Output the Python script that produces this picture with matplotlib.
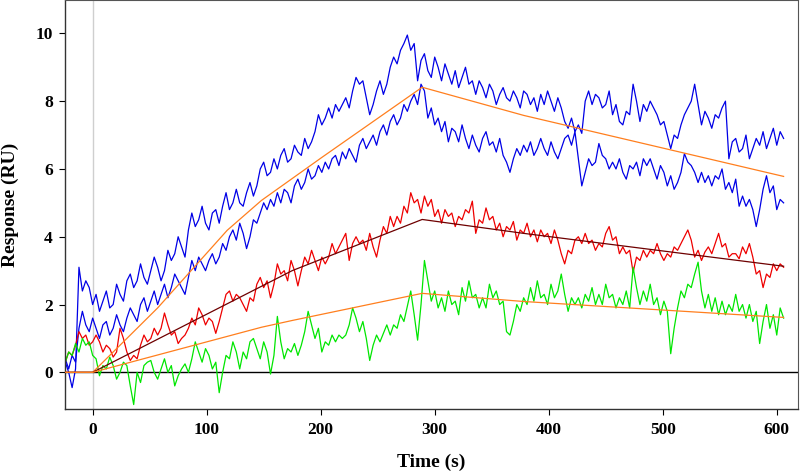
import numpy as np
import matplotlib
matplotlib.use("Agg")
import matplotlib.pyplot as plt

# sensorgram traces, every 3 s from -24 s to 606 s
t = np.arange(-24, 607, 3)

blue_hi = [0.3, 0.0, -0.45, 0.1, 3.1, 2.4, 2.7, 2.5, 2.0, 2.3,
           1.8, 2.1, 2.4, 1.9, 2.0, 2.6, 2.3, 2.1, 2.7, 2.9,
           2.5, 2.7, 3.2, 2.8, 2.6, 3.0, 3.4, 3.1, 2.7, 3.0,
           3.6, 3.3, 3.5, 4.0, 3.7, 3.4, 4.2, 4.7, 4.3, 4.5,
           4.9, 4.4, 4.2, 4.7, 4.8, 4.4, 4.9, 5.3, 4.8, 5.0,
           5.4, 5.0, 4.9, 5.3, 5.6, 5.2, 5.5, 6.0, 6.2, 5.8,
           5.9, 6.3, 6.0, 6.4, 6.6, 6.2, 6.3, 6.7, 6.5, 6.4,
           6.9, 6.6, 6.8, 7.1, 7.6, 7.3, 7.5, 7.8, 7.5, 7.9,
           7.7, 7.9, 8.1, 7.8, 8.3, 8.7, 8.5, 8.6, 8.1, 7.6,
           7.9, 8.3, 8.6, 8.2, 8.5, 9.0, 9.3, 9.1, 9.5, 9.7,
           9.95, 9.5, 9.7, 8.6, 9.2, 9.4, 8.9, 8.7, 9.3, 9.0,
           8.6, 9.1, 8.8, 8.5, 8.9, 8.4, 8.7, 9.0, 8.5, 8.6,
           8.2, 8.6, 8.4, 8.1, 8.5, 8.3, 7.9, 8.2, 8.4, 8.1,
           8.0, 8.3, 8.1, 7.8, 8.3, 8.2, 7.9, 8.1, 7.7, 8.2,
           7.9, 8.3, 8.0, 7.7, 8.1, 7.8, 7.4, 7.2, 7.5, 7.1,
           7.3, 7.05, 8.0, 8.3, 7.9, 8.2, 8.1, 7.8, 7.9, 8.3,
           7.6, 7.9, 7.4, 7.3, 7.7, 7.6, 8.5, 8.0, 7.4, 7.9,
           7.7, 8.0, 7.8, 7.6, 7.3, 7.4, 7.0, 6.6, 7.0, 6.9,
           7.3, 7.6, 7.8, 8.0, 8.5, 7.9, 7.3, 7.7, 7.5, 7.2,
           7.6, 7.5, 7.8, 8.0, 6.3, 6.8, 6.9, 6.5, 6.6, 7.0,
           6.3, 6.6, 6.9, 6.7, 7.1, 6.6, 6.9, 7.2, 6.7, 7.1,
           6.9]

blue_lo = [0.4, 0.1, 0.5, 0.3, 1.3, 1.8, 1.4, 1.2, 1.6, 1.3,
           1.0, 1.4, 1.5, 1.1, 1.3, 1.7, 1.4, 1.2, 1.6, 1.9,
           1.7, 1.5, 2.0, 2.2, 1.8, 2.1, 2.4, 2.0, 2.3, 2.6,
           2.2, 2.5, 2.9, 2.7, 2.5, 2.3, 2.8, 3.3, 3.0, 3.4,
           3.2, 3.0, 3.3, 3.5, 3.2, 3.4, 3.8, 3.6, 4.0, 4.2,
           3.9, 4.4, 4.1, 3.65, 4.0, 4.5, 4.4, 4.7, 5.0, 4.8,
           5.1, 4.9, 5.3, 5.0, 5.4, 5.3, 5.0, 5.5, 5.7, 5.4,
           5.6, 6.0, 5.7, 5.8, 6.1, 5.9, 6.2, 6.0, 6.3, 6.4,
           6.1, 6.5, 6.3, 6.6, 6.4, 6.2, 6.7, 6.9, 6.6, 6.8,
           7.0, 6.7, 7.1, 7.3, 7.0, 7.4, 7.6, 7.3, 7.5, 7.9,
           7.7, 8.0, 8.2, 7.9, 8.5, 8.3, 7.5, 7.8, 7.3, 7.5,
           7.1, 7.4, 6.8, 7.2, 7.1, 6.8, 7.3, 6.9, 6.6, 7.0,
           6.7, 6.5, 6.9, 7.1, 6.7, 6.8, 6.5, 6.9, 6.4, 6.2,
           5.9, 6.3, 6.6, 6.4, 6.7, 6.5, 6.8, 6.4, 6.6, 6.9,
           6.6, 6.4, 6.8, 6.5, 6.3, 6.6, 6.9, 7.0, 6.7, 7.1,
           6.3, 5.5, 5.9, 6.3, 6.1, 6.2, 6.75, 6.4, 6.3, 6.0,
           6.2, 6.0, 6.3, 5.9, 5.7, 6.1, 6.0, 6.2, 5.8, 6.3,
           6.1, 6.3, 6.0, 5.7, 6.1, 5.9, 5.5, 5.8, 5.4, 5.6,
           5.9, 6.45, 6.2, 6.1, 5.9, 5.6, 5.9, 5.6, 5.8, 5.5,
           5.8, 5.7, 6.0, 5.4, 5.6, 5.3, 5.7, 4.9, 5.2, 4.9,
           5.1, 4.8, 4.3, 4.8, 5.4, 5.8, 5.3, 5.5, 4.8, 5.1,
           5.0]

red = [0.3, 0.6, 0.5, 0.8, 1.2, 1.0, 1.1, 0.8, 0.9, 1.1,
       0.9, 0.6, 0.8, 0.7, 0.45, 0.6, 1.3, 1.0, 0.6, 0.35,
       0.5, 0.4, 0.8, 1.1, 0.9, 1.0, 1.3, 1.1, 1.3, 1.75,
       1.4, 1.1, 1.2, 0.85, 1.0, 1.1, 1.3, 1.6, 1.4, 1.9,
       1.7, 1.4, 1.6, 1.5, 1.15, 1.5, 1.9, 2.3, 2.4, 2.1,
       2.3, 2.2, 2.0, 1.8, 2.2, 2.1, 2.6, 2.8, 2.5, 2.7,
       2.2, 2.6, 3.2, 2.9, 3.0, 2.7, 3.3, 3.0, 2.55, 3.0,
       3.4, 3.2, 3.6, 3.3, 3.0, 3.4, 3.2, 3.4, 3.8, 3.5,
       3.7, 3.9, 4.1, 3.3, 3.8, 4.0, 3.8, 3.9, 3.6, 4.1,
       3.7, 3.4, 3.9, 4.3, 4.1, 4.6, 4.3, 4.6, 4.4, 4.9,
       4.7, 5.3, 5.0, 5.1, 4.7, 5.2, 4.9, 5.1, 4.6, 4.8,
       4.4, 4.8, 4.6, 4.7, 4.3, 4.6, 4.5, 4.8, 4.7, 5.05,
       4.1, 4.5, 4.4, 4.85, 4.5, 4.6, 4.2, 4.4, 4.0, 4.3,
       4.2, 4.45, 3.9, 4.2, 4.1, 4.4, 4.0, 4.2, 3.85, 4.2,
       4.0, 4.1, 3.8, 4.2, 3.9, 3.5, 3.2, 3.6, 3.5, 3.9,
       4.0, 3.8, 4.1, 3.8, 3.9, 3.6, 3.8, 3.7, 4.1, 4.3,
       3.9, 4.0, 3.5, 3.7, 3.5, 3.6, 2.95, 3.4, 3.3, 3.6,
       3.4, 3.6, 3.5, 3.8, 3.5, 3.3, 3.5, 3.4, 3.7, 3.6,
       3.8, 4.0, 4.2, 3.9, 3.4, 3.6, 3.3, 3.55, 3.7, 3.5,
       3.8, 4.1, 3.7, 3.8, 3.4, 3.5, 3.5, 3.35, 3.7, 3.5,
       3.8, 3.4, 2.9, 3.0, 2.5, 2.9, 2.8, 3.2, 3.0, 3.2,
       3.1]

green = [0.3, 0.6, 0.5, 0.85, 0.6, 1.0, 0.8, 0.9, 0.5, 0.4,
         -0.1, 0.2, 0.1, 0.45, 0.2, -0.2, 0.0, 0.3, 0.2, -0.4,
         -0.95, 0.0, -0.3, 0.2, 0.3, 0.35, 0.0, -0.2, 0.1, 0.4,
         0.0, 0.2, -0.4, -0.1, 0.1, 0.25, 0.0, 0.4, 0.9, 0.6,
         0.3, 0.7, 0.5, 0.1, 0.3, -0.6, 0.0, 0.5, 0.4, 0.9,
         0.6, 0.1, 0.6, 0.4, 0.9, 1.0, 0.7, 0.4, 0.9, 0.6,
         -0.05, 0.5, 1.65, 0.9, 0.4, 0.7, 0.6, 0.85, 0.5, 0.8,
         1.2, 1.8, 1.4, 1.0, 1.3, 0.6, 0.9, 0.8, 1.1, 0.9,
         1.1, 1.0, 1.1, 1.4, 1.9, 1.6, 1.2, 1.5, 1.0, 0.35,
         0.8, 1.1, 0.9, 1.15, 1.4, 1.1, 1.4, 1.3, 1.7, 1.5,
         1.95, 2.4, 1.7, 0.95, 2.0, 3.3, 2.7, 2.1, 2.4, 1.9,
         2.2, 1.8, 2.4, 2.0, 2.1, 1.7, 2.5, 2.1, 2.7, 2.2,
         2.3, 1.9, 2.2, 1.9, 2.6, 2.2, 2.4, 2.0, 2.1, 1.2,
         1.1, 1.5, 2.0, 1.8, 2.2, 2.0, 2.5, 2.1, 2.7, 2.2,
         2.3, 2.0, 2.6, 2.2, 2.4, 2.9, 2.3, 1.8, 2.2, 2.0,
         2.2, 1.9, 2.3, 2.1, 2.5, 2.0, 2.3, 2.0, 2.6, 2.2,
         2.3, 1.9, 2.2, 2.0, 2.4, 1.9, 3.1, 2.5, 2.0, 2.4,
         2.1, 2.6, 2.0, 2.2, 1.7, 2.1, 1.8, 0.55, 1.3, 1.9,
         2.4, 2.2, 2.6, 2.5, 2.9, 3.25, 2.4, 1.9, 2.3, 1.8,
         2.2, 1.7, 2.1, 1.7, 2.0, 1.8, 2.3, 1.8, 2.0, 1.6,
         2.0, 1.5, 1.8, 0.85, 1.5, 2.0, 1.3, 1.7, 1.1, 1.9,
         1.6]

# fitted curves, just the corner points
fit_t_blue = [-24, 0, 57, 118, 148, 201, 289, 378, 606]
fit_blue = [0, 0, 1.9, 4.19, 5.07, 6.34, 8.41, 7.58, 5.78]
fit_t_red = [-24, 0, 175, 289, 378, 606]
fit_red = [0, 0, 3.0, 4.51, 4.1, 3.13]
fit_t_green = [-24, 0, 148, 175, 289, 378, 606]
fit_green = [0, 0, 1.33, 1.53, 2.33, 2.09, 1.62]

xticks = [0, 100, 200, 300, 400, 500, 600]
yticks = [0, 2, 4, 6, 8, 10]

plt.rcParams['font.family'] = ['Liberation Serif', 'DejaVu Serif']
plt.rcParams['font.weight'] = 'bold'

fig = plt.figure(figsize=(8.0, 4.71), dpi=100)
ax = fig.add_axes([0.0816, 0.131, 0.916, 0.868])

ax.axvline(0, color='#cfcfcf', lw=1.0, zorder=1)
ax.axhline(0, color='black', lw=1.0, zorder=1)

ax.plot(t, blue_hi, color='#0000e6', lw=0.9, zorder=2)
ax.plot(t, blue_lo, color='#0000e6', lw=0.9, zorder=2)
ax.plot(t, red, color='#ee0000', lw=0.9, zorder=2)
ax.plot(t, green, color='#00e600', lw=0.9, zorder=2)

ax.plot(fit_t_blue, fit_blue, color='#ff7f1e', lw=0.9, zorder=3)
ax.plot(fit_t_red, fit_red, color='#6e0000', lw=0.9, zorder=3)
ax.plot(fit_t_green, fit_green, color='#ff7f1e', lw=0.9, zorder=3)

ax.set_xlim(-24, 618.7)
ax.set_ylim(-1.09, 10.97)
ax.set_xticks(xticks)
ax.set_yticks(yticks)
ax.tick_params(labelsize=12.5, length=4, width=0.8, pad=5)

for side in ['top', 'right']:
    ax.spines[side].set_color('#555555')
    ax.spines[side].set_linewidth(0.8)
for side in ['left', 'bottom']:
    ax.spines[side].set_color('#333333')
    ax.spines[side].set_linewidth(1.0)

ax.set_xlabel('Time (s)', fontsize=14, fontweight='bold', va='center')
ax.set_ylabel('Response (RU)', fontsize=14, fontweight='bold', va='center')
ax.xaxis.set_label_coords(0.5, -0.129)
ax.yaxis.set_label_coords(-0.0755, 0.5)

fig.savefig('out.png', dpi=100)
